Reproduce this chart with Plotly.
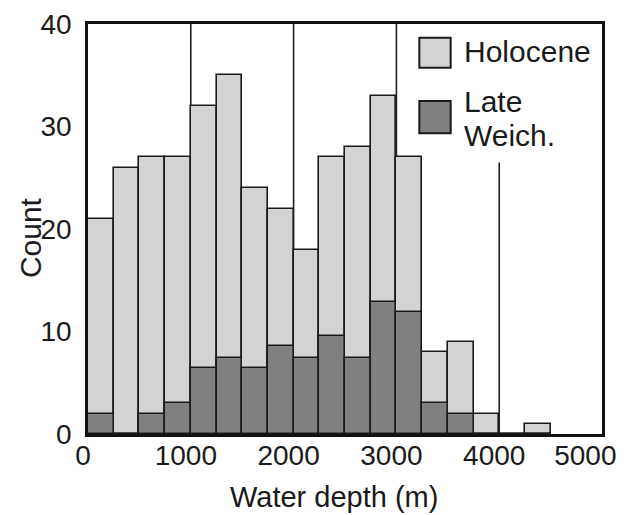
import plotly.graph_objects as go

bin_left = [0, 250, 500, 750, 1000, 1250, 1500, 1750, 2000, 2250, 2500, 2750,
            3000, 3250, 3500, 3750, 4000, 4250]
bin_width = 250
holocene = [21, 26, 27, 27, 32, 35, 24, 22, 18, 27, 28, 33, 27, 8, 9, 2, 0, 1]
late_weich = [2, 0, 2, 3, 6.4, 7.4, 6.4, 8.6, 7.4, 9.6, 7.4, 12.9, 11.9, 3, 2, 0, 0, 0]
x_ticks = [0, 1000, 2000, 3000, 4000, 5000]
y_ticks = [0, 10, 20, 30, 40]
marker_lines = [(1000, 40), (2000, 40), (3000, 40), (4000, 26.5)]

centers = [b + bin_width / 2 for b in bin_left]
FONT = "Liberation Sans, Arial, sans-serif"
LIGHT = "#d3d3d3"
DARK = "#808080"
INK = "#1a1a1a"

# last x label padded with no-break spaces so it stays inside the window edge
x_text = [str(v) for v in x_ticks]
x_text[-1] = x_text[-1] + "\u00a0\u00a0\u00a0"

fig = go.Figure()
fig.add_trace(go.Bar(x=centers, y=holocene, width=bin_width, name="Holocene",
                     marker=dict(color=LIGHT, line=dict(color=INK, width=1.6)),
                     showlegend=False))
fig.add_trace(go.Bar(x=centers, y=late_weich, width=bin_width, name="Late Weich.",
                     marker=dict(color=DARK, line=dict(color=INK, width=1.6)),
                     showlegend=False))

shapes = []
for xv, top in marker_lines:
    shapes.append(dict(type="line", xref="x", yref="y", x0=xv, x1=xv, y0=0, y1=top,
                       line=dict(color="#222222", width=1.6), layer="below"))
# legend swatches
shapes.append(dict(type="rect", xref="paper", yref="paper", x0=0.6446, x1=0.7056,
                   y0=0.8934, y1=0.9666, fillcolor=LIGHT, line=dict(color=INK, width=2)))
shapes.append(dict(type="rect", xref="paper", yref="paper", x0=0.6446, x1=0.7056,
                   y0=0.7334, y1=0.8122, fillcolor=DARK, line=dict(color=INK, width=2)))

annotations = [
    dict(text="Holocene", xref="paper", yref="paper", x=0.7276, y=0.932,
         xanchor="left", yanchor="middle", showarrow=False, font=dict(size=30, family=FONT, color=INK)),
    dict(text="Late", xref="paper", yref="paper", x=0.7276, y=0.810,
         xanchor="left", yanchor="middle", showarrow=False, font=dict(size=30, family=FONT, color=INK)),
    dict(text="Weich.", xref="paper", yref="paper", x=0.7276, y=0.729,
         xanchor="left", yanchor="middle", showarrow=False, font=dict(size=30, family=FONT, color=INK)),
    dict(text="Count", xref="paper", yref="paper", x=-0.113, y=0.48, textangle=-90,
         xanchor="center", yanchor="middle", showarrow=False, font=dict(size=30, family=FONT, color=INK)),
    dict(text="Water depth (m)", xref="paper", yref="paper", x=0.479, y=-0.153,
         xanchor="center", yanchor="middle", showarrow=False, font=dict(size=29, family=FONT, color=INK)),
]

# page body has an 8px default margin; figure placed at (8, 8) in the 626x515 window
fig.update_layout(
    width=618, height=507,
    margin=dict(l=80, r=24, t=16, b=81),
    paper_bgcolor="white", plot_bgcolor="white",
    barmode="overlay", bargap=0,
    shapes=shapes, annotations=annotations,
    font=dict(family=FONT, size=28, color=INK),
)
fig.update_xaxes(range=[0, 5000], tickvals=x_ticks, ticktext=x_text,
                 automargin=False,
                 showgrid=False, zeroline=False, showline=True, mirror=True,
                 linecolor="#111111", linewidth=2.5, ticks="", ticklabelstandoff=-5,
                 ticklabelshift=-5, ticklabeloverflow="allow",
                 tickfont=dict(size=28, family=FONT, color=INK))
fig.update_yaxes(range=[0, 40], tickvals=y_ticks, ticktext=[str(v) for v in y_ticks],
                 automargin=False,
                 showgrid=False, zeroline=False, showline=True, mirror=True,
                 linecolor="#111111", linewidth=2.5, ticks="", ticklabelstandoff=8,
                 ticklabeloverflow="allow",
                 tickfont=dict(size=28, family=FONT, color=INK))

fig.write_html("out.html", config={"displayModeBar": False})
